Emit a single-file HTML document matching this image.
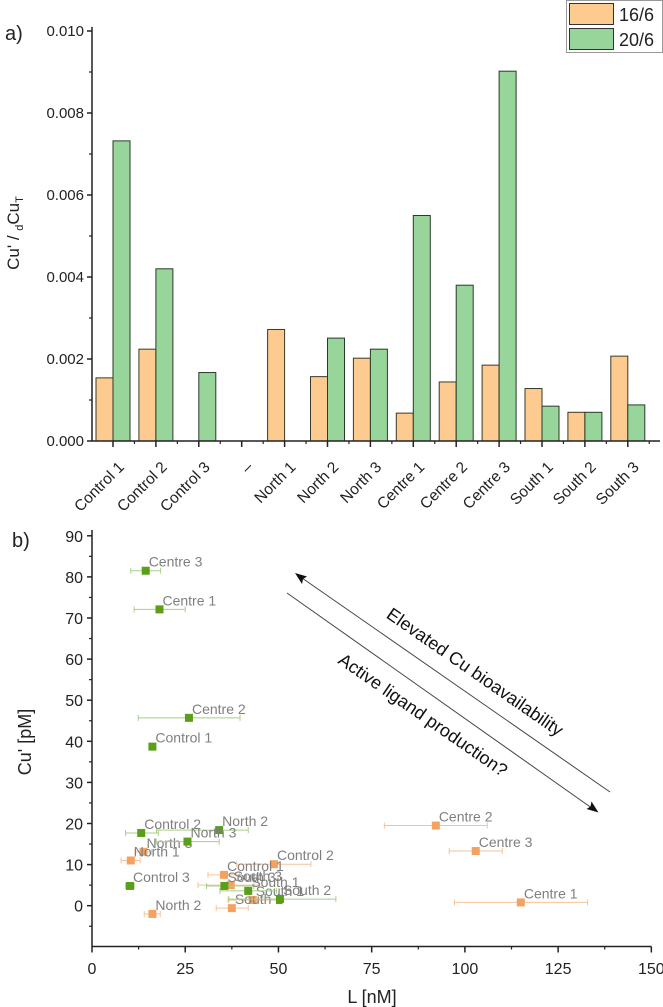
<!DOCTYPE html>
<html><head><meta charset="utf-8">
<style>
html,body{margin:0;padding:0;background:#fff;}
svg{display:block;font-family:"Liberation Sans",Arial,sans-serif;}
</style></head>
<body>
<svg id="fig" width="663" height="1007" viewBox="0 0 663 1007" xmlns="http://www.w3.org/2000/svg">
<g id="chartA"></g>
<g id="chartB"></g>
</svg>
<script>
// ---------- Chart a data ----------
const barCategories = ["Control 1","Control 2","Control 3","\u2013","North 1","North 2","North 3","Centre 1","Centre 2","Centre 3","South 1","South 2","South 3"];
const series166 = [0.00154,0.00224,0,0,0.00272,0.00157,0.00202,0.00068,0.00144,0.00185,0.00128,0.00070,0.00207];
const series206 = [0.00732,0.00420,0.00167,0,0,0.00251,0.00224,0.00550,0.00380,0.00902,0.00085,0.00070,0.00088];
const yTicksA = [0,0.002,0.004,0.006,0.008,0.010];
const yTickLabelsA = ["0.000","0.002","0.004","0.006","0.008","0.010"];

// ---------- Chart b data ----------
const greenNames = ["Centre 3","Centre 1","Centre 2","Control 1","Control 2","North 2","North 3","Control 3","South 3","South 1","South 2"];
const greenL = [14.4,18.1,26.0,16.2,13.2,34.1,25.6,10.2,35.5,41.9,50.4];
const greenCu = [81.5,72.1,45.7,38.7,17.7,18.4,15.6,4.8,4.8,3.6,1.6];
const greenErrLo = [10.4,11.3,12.4,15.5,9.0,17.3,17.2,9.0,30.7,34.3,36.7];
const greenErrHi = [18.4,25.0,39.7,17.0,17.8,41.9,34.1,11.3,43.4,49.5,65.4];
const orangeNames = ["Centre 2","Centre 3","Centre 1","Control 2","Control 1","South 3","North 3","North 1","South 1","South 2","North 2"];
const orangeL = [92.2,102.9,115.0,48.8,35.4,37.2,13.8,10.4,43.1,37.5,16.2];
const orangeCu = [19.5,13.3,0.8,10.1,7.5,5.0,13.1,11.0,1.4,-0.6,-2.0];
const orangeErrLo = [78.4,95.8,97.2,38.8,31.1,28.4,11.5,7.8,36.5,33.3,14.0];
const orangeErrHi = [106.0,110.0,132.9,58.7,39.5,45.0,16.0,12.9,50.0,41.9,18.3];
const xTicksB = [0,25,50,75,100,125,150];
const yTicksB = [0,10,20,30,40,50,60,70,80,90];

const NS="http://www.w3.org/2000/svg";
function mk(parent,tag,attrs,text){const e=document.createElementNS(NS,tag);for(const k in attrs)e.setAttribute(k,attrs[k]);if(text!==undefined)e.textContent=text;parent.appendChild(e);return e;}

// ===== Chart a =====
const A=document.getElementById('chartA');
const axA={x0:92,y0:441,pxPerUnit:41000,groupStart:113,groupStep:42.9,barW:17};
function yA(v){return axA.y0-v*axA.pxPerUnit;}
function xA(i){return axA.groupStart+i*axA.groupStep;}
for(let i=0;i<barCategories.length;i++){
  if(series166[i]>0){
    const r=mk(A,'rect',{x:xA(i)-axA.barW,y:yA(series166[i]),width:axA.barW,height:axA.y0-yA(series166[i]),fill:'#fdca8f',stroke:'#3a3a2a','stroke-width':1});
    
    
  }
  if(series206[i]>0){
    const r=mk(A,'rect',{x:xA(i),y:yA(series206[i]),width:axA.barW,height:axA.y0-yA(series206[i]),fill:'#98d59b',stroke:'#2a3a2a','stroke-width':1});
    
    
  }
}
let ln=mk(A,'line',{x1:axA.x0,y1:yA(0.0101),x2:axA.x0,y2:axA.y0,stroke:'#222','stroke-width':1.5});


ln=mk(A,'line',{x1:axA.x0,y1:axA.y0,x2:660,y2:axA.y0,stroke:'#222','stroke-width':1.5});


for(let k=0;k<yTicksA.length;k++){
  const y=yA(yTicksA[k]);
  mk(A,'line',{x1:axA.x0-5,y1:y,x2:axA.x0,y2:y,stroke:'#222','stroke-width':1.5});
  if(k<yTicksA.length-1) mk(A,'line',{x1:axA.x0-3,y1:yA(yTicksA[k]+0.001),x2:axA.x0,y2:yA(yTicksA[k]+0.001),stroke:'#222','stroke-width':1.2});
  const t=mk(A,'text',{x:axA.x0-8,y:y+5,'text-anchor':'end','font-size':15,fill:'#222'},yTickLabelsA[k]);
  
  
}
for(let i=0;i<barCategories.length;i++){
  const x=xA(i);
  mk(A,'line',{x1:x,y1:axA.y0,x2:x,y2:axA.y0+6,stroke:'#222','stroke-width':1.5});
  mk(A,'line',{x1:x+axA.groupStep/2,y1:axA.y0,x2:x+axA.groupStep/2,y2:axA.y0+3,stroke:'#222','stroke-width':1.2});
  const t=mk(A,'text',{x:x+12,y:468,'text-anchor':'end','font-size':15.5,fill:'#222',transform:`rotate(-45 ${x+12} 468)`},barCategories[i]);
  
  
}
let tt=mk(A,'text',{x:0,y:0,'font-size':17,fill:'#222','text-anchor':'middle',transform:'translate(19 233) rotate(-90)'});


tt.appendChild(document.createTextNode("Cu' / "));
mk(tt,'tspan',{'font-size':11,dy:4},'d');
mk(tt,'tspan',{dy:-4},'Cu');
mk(tt,'tspan',{'font-size':11,dy:4},'T');
tt=mk(A,'text',{x:5,y:40,'font-size':20,fill:'#222'},'a)');


const lg=mk(A,'g',{});


mk(lg,'rect',{x:566.5,y:0.5,width:96,height:52,fill:'#fff',stroke:'#999','stroke-width':1});
mk(lg,'rect',{x:569.5,y:3.5,width:44,height:21,fill:'#fdca8f',stroke:'#333','stroke-width':1});
mk(lg,'rect',{x:569.5,y:28.5,width:44,height:21,fill:'#98d59b',stroke:'#333','stroke-width':1});
tt=mk(lg,'text',{x:619,y:21,'font-size':18,fill:'#222'},'16/6');


tt=mk(lg,'text',{x:619,y:46,'font-size':18,fill:'#222'},'20/6');



// ===== Chart b =====
const B=document.getElementById('chartB');
const axB={x0:92,pxPerL:3.729,y0:905.7,pxPerCu:4.11,bottom:946.5,top:530};
function xB(v){return axB.x0+v*axB.pxPerL;}
function yB(v){return axB.y0-v*axB.pxPerCu;}
ln=mk(B,'line',{x1:axB.x0,y1:axB.top,x2:axB.x0,y2:axB.bottom,stroke:'#222','stroke-width':1.5});


ln=mk(B,'line',{x1:axB.x0,y1:axB.bottom,x2:xB(150),y2:axB.bottom,stroke:'#222','stroke-width':1.5});


for(const v of yTicksB){
  mk(B,'line',{x1:axB.x0-5,y1:yB(v),x2:axB.x0,y2:yB(v),stroke:'#222','stroke-width':1.5});
  mk(B,'line',{x1:axB.x0-3,y1:yB(v-5),x2:axB.x0,y2:yB(v-5),stroke:'#222','stroke-width':1.2});
  const t=mk(B,'text',{x:axB.x0-9,y:yB(v)+6,'text-anchor':'end','font-size':16,fill:'#222'},String(v));
  
  
}
for(const v of xTicksB){
  mk(B,'line',{x1:xB(v),y1:axB.bottom,x2:xB(v),y2:axB.bottom+6,stroke:'#222','stroke-width':1.5});
  if(v<150) mk(B,'line',{x1:xB(v+12.5),y1:axB.bottom,x2:xB(v+12.5),y2:axB.bottom+3,stroke:'#222','stroke-width':1.2});
  const t=mk(B,'text',{x:xB(v),y:974,'text-anchor':'middle','font-size':16,fill:'#222'},String(v));
  
  
}
tt=mk(B,'text',{x:372,y:1003,'text-anchor':'middle','font-size':18,fill:'#222'},'L [nM]');


tt=mk(B,'text',{x:0,y:0,'text-anchor':'middle','font-size':18,fill:'#222',transform:'translate(31 742) rotate(-90)'},"Cu' [pM]");


tt=mk(B,'text',{x:12,y:547,'font-size':20,fill:'#222'},'b)');



function drawSeries(names,L,Cu,lo,hi,fill,errc,key){
  for(let i=0;i<names.length;i++){
    const y=yB(Cu[i]),xl=xB(lo[i]),xh=xB(hi[i]);
    const e=mk(B,'g',{});
    
    
    mk(e,'line',{x1:xl,y1:y,x2:xh,y2:y,stroke:errc,'stroke-width':1});
    mk(e,'line',{x1:xl,y1:y-3,x2:xl,y2:y+3,stroke:errc,'stroke-width':1});
    mk(e,'line',{x1:xh,y1:y-3,x2:xh,y2:y+3,stroke:errc,'stroke-width':1});
  }
  for(let i=0;i<names.length;i++){
    const x=xB(L[i]),y=yB(Cu[i]);
    const p=mk(B,'rect',{x:x-4,y:y-4,width:8,height:8,fill:fill});
    
    
    const t=mk(B,'text',{x:x+3,y:y-4,'font-size':14,fill:'#7f7f7f'},names[i]);
    
    
  }
}
drawSeries(orangeNames,orangeL,orangeCu,orangeErrLo,orangeErrHi,'#f4a261','#f3c49a','16-6');
drawSeries(greenNames,greenL,greenCu,greenErrLo,greenErrHi,'#5a9e1a','#a8cf88','20-6');

const an=mk(B,'g',{});


mk(an,'line',{x1:297,y1:574.5,x2:610,y2:792,stroke:'#444','stroke-width':1});
mk(an,'path',{d:'M295,573 L307,576.5 L303,579 L302,584 Z',fill:'#111'});
mk(an,'line',{x1:287,y1:593,x2:596,y2:811,stroke:'#444','stroke-width':1});
mk(an,'path',{d:'M598.5,812.5 L586.5,809 L590.5,806.5 L591.5,801.5 Z',fill:'#111'});
tt=mk(an,'text',{x:475,y:672,'text-anchor':'middle','dominant-baseline':'central','font-size':18,fill:'#111',transform:'rotate(34.8 475 672)'},'Elevated Cu bioavailability');


tt=mk(an,'text',{x:423,y:715,'text-anchor':'middle','dominant-baseline':'central','font-size':18,fill:'#111',transform:'rotate(34.8 423 715)'},'Active ligand production?');


</script>
</body></html>
